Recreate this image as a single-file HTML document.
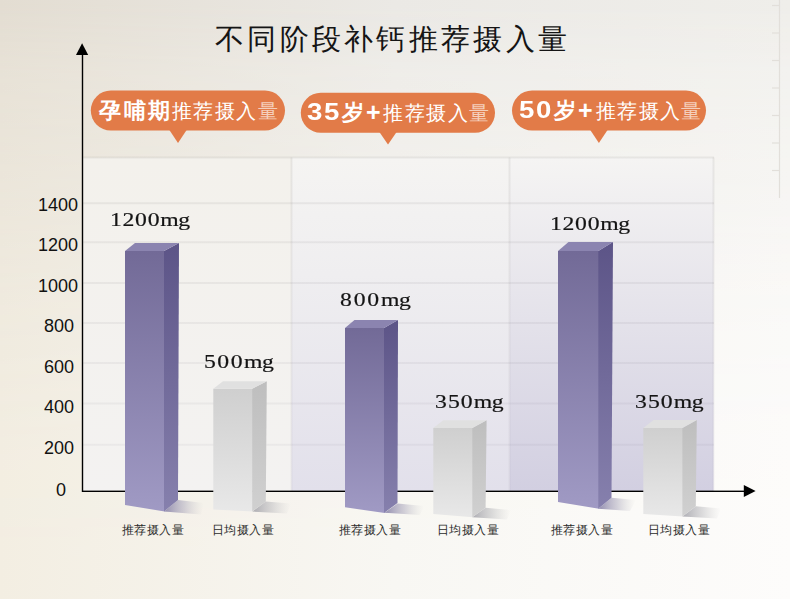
<!DOCTYPE html>
<html><head><meta charset="utf-8">
<style>
html,body{margin:0;padding:0;}
body{width:790px;height:599px;overflow:hidden;position:relative;font-family:"Liberation Sans",sans-serif;
background:linear-gradient(90deg,#e3ddd2 0%,#ebe9e5 50%,#efeeea 100%);}
#bg2{position:absolute;left:0;top:0;width:790px;height:599px;
background:linear-gradient(90deg,#f3eee2 0%,#f8f7f3 50%,#fdfcfb 100%);
-webkit-mask-image:linear-gradient(180deg,rgba(0,0,0,0) 0%,rgba(0,0,0,.3) 12%,rgba(0,0,0,.42) 22%,rgba(0,0,0,.75) 49%,rgba(0,0,0,.94) 76%,#000 100%);mask-image:linear-gradient(180deg,rgba(0,0,0,0) 0%,rgba(0,0,0,.3) 12%,rgba(0,0,0,.42) 22%,rgba(0,0,0,.75) 49%,rgba(0,0,0,.94) 76%,#000 100%);}
svg{position:absolute;left:0;top:0;}
.t{position:absolute;white-space:nowrap;}
.title{left:215px;top:20px;font-size:29px;letter-spacing:3.3px;color:#151515;font-weight:500;}
.tick{font-size:18px;color:#111;text-align:center;width:44px;}
.val{font-family:"Liberation Serif",serif;font-size:21px;letter-spacing:0.6px;color:#141414;transform:scale(1.13,0.94);transform-origin:0 0;-webkit-text-stroke:0.2px #141414;}
.val i{font-style:normal;letter-spacing:-0.4px;}
.cat{font-size:11.5px;letter-spacing:0.4px;color:#2b2b2b;font-weight:500;}
.bb{color:#fff;font-size:22px;font-weight:700;}
.br{color:#fff;font-size:20px;font-weight:500;}
.bd{color:#fff;font-size:24px;font-weight:700;transform:scaleX(1.15);transform-origin:0 0;}
.bp{color:#fff;font-size:25px;font-weight:700;}
.lt{color:#f5d0bd;}
</style></head>
<body>
<div id="bg2"></div>
<svg width="790" height="599" viewBox="0 0 790 599">
<defs>
<linearGradient id="gl" gradientUnits="userSpaceOnUse" x1="0" y1="157" x2="0" y2="491">
<stop offset="0" stop-color="#3a3530" stop-opacity="0.075"/><stop offset="1" stop-color="#3a3050" stop-opacity="0.045"/></linearGradient>
<linearGradient id="p1" x1="0" y1="0" x2="0" y2="1">
<stop offset="0" stop-color="#f3f1ec"/><stop offset="1" stop-color="#f3f2f1"/></linearGradient>
<linearGradient id="p2" x1="0" y1="0" x2="0" y2="1">
<stop offset="0" stop-color="#f5f4f2"/><stop offset="0.35" stop-color="#efeef0"/><stop offset="1" stop-color="#e2e0eb"/></linearGradient>
<linearGradient id="p3" x1="0" y1="0" x2="0" y2="1">
<stop offset="0" stop-color="#f5f4f3"/><stop offset="1" stop-color="#d2cfe1"/></linearGradient>
<linearGradient id="pf" x1="0" y1="0" x2="0" y2="1">
<stop offset="0" stop-color="#726a97"/><stop offset="1" stop-color="#a09ac4"/></linearGradient>
<linearGradient id="ps" x1="0" y1="0" x2="0" y2="1">
<stop offset="0" stop-color="#5c5487"/><stop offset="1" stop-color="#8680ad"/></linearGradient>
<linearGradient id="wf" x1="0" y1="0" x2="0" y2="1">
<stop offset="0" stop-color="#cfcfcf"/><stop offset="1" stop-color="#e8e8e8"/></linearGradient>
<linearGradient id="ws" x1="0" y1="0" x2="0" y2="1">
<stop offset="0" stop-color="#bebebe"/><stop offset="1" stop-color="#d0d0d0"/></linearGradient>
<linearGradient id="sh" x1="0" y1="0" x2="1" y2="0">
<stop offset="0" stop-color="#7f79a3" stop-opacity="0.85"/><stop offset="0.5" stop-color="#a9a5bb" stop-opacity="0.5"/><stop offset="1" stop-color="#ccc" stop-opacity="0"/></linearGradient>
<linearGradient id="shw" x1="0" y1="0" x2="1" y2="0">
<stop offset="0" stop-color="#9e9ea6" stop-opacity="0.85"/><stop offset="0.5" stop-color="#b8b8bc" stop-opacity="0.5"/><stop offset="1" stop-color="#ccc" stop-opacity="0"/></linearGradient>
</defs>
<!-- right ruler -->
<g stroke="#e2dfda" stroke-width="1.2" fill="none">
<line x1="779.5" y1="0" x2="779.5" y2="198"/>
<line x1="772" y1="5.5" x2="779" y2="5.5"/><line x1="772" y1="33" x2="779" y2="33"/>
<line x1="772" y1="60.5" x2="779" y2="60.5"/><line x1="772" y1="88" x2="779" y2="88"/>
<line x1="772" y1="115.5" x2="779" y2="115.5"/><line x1="772" y1="143" x2="779" y2="143"/>
<line x1="772" y1="170.5" x2="779" y2="170.5"/>
</g>
<!-- panels -->
<rect x="83" y="157.5" width="208.5" height="333.5" fill="url(#p1)"/>
<rect x="291.5" y="157.5" width="218" height="333.5" fill="url(#p2)"/>
<rect x="509.5" y="157.5" width="204" height="333.5" fill="url(#p3)"/>
<g stroke="url(#gl)" stroke-width="2" fill="none">
<line x1="83" y1="157.5" x2="714" y2="157.5"/>
<line x1="291.5" y1="157.5" x2="291.5" y2="491"/>
<line x1="509.5" y1="157.5" x2="509.5" y2="491"/>
<line x1="713.5" y1="157.5" x2="713.5" y2="491"/>
<line x1="83" y1="203.2" x2="714" y2="203.2"/>
<line x1="83" y1="242.2" x2="714" y2="242.2"/>
<line x1="83" y1="283" x2="714" y2="283"/>
<line x1="83" y1="323" x2="714" y2="323"/>
<line x1="83" y1="363" x2="714" y2="363"/>
<line x1="83" y1="403.5" x2="714" y2="403.5"/>
<line x1="83" y1="444.7" x2="714" y2="444.7"/>
</g>
<!-- axes -->
<line x1="82.5" y1="52" x2="82.5" y2="492" stroke="#000" stroke-width="1.4"/>
<polygon points="76,55 88.2,55 82.1,43.2" fill="#000"/>
<rect x="82" y="490.6" width="664" height="1.4" fill="#000"/>
<polygon points="743.8,485 743.8,497 755.6,491" fill="#000"/>
<!-- shadows -->
<polygon points="164,511.5 178,500 204,503 201,514.5" fill="url(#sh)"/>
<polygon points="252.3,511.6 265.6,501.4 291,503.5 287,513.5" fill="url(#shw)"/>
<polygon points="384.5,512.8 397.6,503.5 424,506 420,515" fill="url(#sh)"/>
<polygon points="472.3,517.3 485.6,507.7 511,510 507,519.5" fill="url(#shw)"/>
<polygon points="598.3,508.7 611.5,497.7 636,500 630,511" fill="url(#sh)"/>
<polygon points="682.4,516.6 695.8,506.3 721,508.5 717,518.5" fill="url(#shw)"/>
<!-- bar 1 -->
<polygon points="125,251 164.7,251 164.7,511.5 125,505" fill="url(#pf)"/>
<polygon points="164,251 179,243 178,500 164,511.5" fill="url(#ps)"/>
<polygon points="125,251 135,243 179,243 164,251" fill="#8b84b0"/>
<!-- bar 2 -->
<polygon points="213.3,388.8 252.9,388.8 252.9,511.4 213.3,509.4" fill="url(#wf)"/>
<polygon points="252.2,388.8 266.8,381.2 265.8,501.5 252.2,511.4" fill="url(#ws)"/>
<polygon points="213.3,388.8 223,381.2 266.8,381.2 252.2,388.8" fill="#e0e0e0"/>
<!-- bar 3 -->
<polygon points="345,328 384.7,328 384.7,513 345,507.3" fill="url(#pf)"/>
<polygon points="384,328 398,320 397.5,503 384,513" fill="url(#ps)"/>
<polygon points="345,328 354.5,320 398,320 384,328" fill="#8b84b0"/>
<!-- bar 4 -->
<polygon points="433.3,428 473,428 473,517.3 433.3,513.9" fill="url(#wf)"/>
<polygon points="472.3,428 486.6,420.3 485.6,507.7 472.3,517.3" fill="url(#ws)"/>
<polygon points="433.3,428 443.3,420.3 486.6,420.3 472.3,428" fill="#e0e0e0"/>
<!-- bar 5 -->
<polygon points="558,251 599,251 599,508.7 558,502" fill="url(#pf)"/>
<polygon points="598.3,251 613,242 611.5,497.7 598.3,508.7" fill="url(#ps)"/>
<polygon points="558,251 568.5,242 613,242 598.3,251" fill="#8b84b0"/>
<!-- bar 6 -->
<polygon points="643.3,428 683.1,428 683.1,516.6 643.3,514.1" fill="url(#wf)"/>
<polygon points="682.4,428 696.8,420 695.8,506.3 682.4,516.6" fill="url(#ws)"/>
<polygon points="643.3,428 653.5,420 696.8,420 682.4,428" fill="#e0e0e0"/>
<!-- bubbles -->
<g fill="#e27b48">
<rect x="90.8" y="90.6" width="194.2" height="40" rx="20"/>
<polygon points="168.7,129 187.3,129 178,143"/>
<rect x="300.8" y="92.8" width="194.2" height="40" rx="20"/>
<polygon points="378.7,131 397.3,131 388,144.6"/>
<rect x="512" y="90.6" width="194" height="40" rx="20"/>
<polygon points="589.6,129 608.2,129 598.9,143"/>
</g>
</svg>

<div class="t title">不同阶段补钙推荐摄入量</div>

<div class="t tick" style="left:36px;top:195px">1400</div>
<div class="t tick" style="left:36px;top:235px">1200</div>
<div class="t tick" style="left:36px;top:275.5px">1000</div>
<div class="t tick" style="left:37px;top:316px">800</div>
<div class="t tick" style="left:37px;top:357px">600</div>
<div class="t tick" style="left:37px;top:397px">400</div>
<div class="t tick" style="left:37px;top:437.5px">200</div>
<div class="t tick" style="left:39px;top:479.5px">0</div>

<div class="t val" style="left:110px;top:208px">1200<i>mg</i></div>
<div class="t val" style="left:203.5px;top:350px; letter-spacing:1.3px">500<i>mg</i></div>
<div class="t val" style="left:340px;top:288px; letter-spacing:1.6px">800<i>mg</i></div>
<div class="t val" style="left:435px;top:390px; letter-spacing:0.9px">350<i>mg</i></div>
<div class="t val" style="left:550px;top:212px">1200<i>mg</i></div>
<div class="t val" style="left:635px;top:390px; letter-spacing:0.9px">350<i>mg</i></div>

<div class="t cat" style="left:122px;top:523px">推荐摄入量</div>
<div class="t cat" style="left:212px;top:523px">日均摄入量</div>
<div class="t cat" style="left:339px;top:523px">推荐摄入量</div>
<div class="t cat" style="left:437px;top:523px">日均摄入量</div>
<div class="t cat" style="left:551px;top:523px">推荐摄入量</div>
<div class="t cat" style="left:648px;top:523px">日均摄入量</div>

<div class="t bb" style="left:99.0px;top:95.5px">孕</div>
<div class="t bb" style="left:123.5px;top:95.5px">哺</div>
<div class="t bb" style="left:148.2px;top:95.5px">期</div>
<div class="t br" style="left:172.0px;top:97.9px">推</div>
<div class="t br" style="left:193.1px;top:97.9px">荐</div>
<div class="t br" style="left:215.1px;top:97.9px">摄</div>
<div class="t br" style="left:236.4px;top:97.9px">入</div>
<div class="t br lt" style="left:258.0px;top:97.9px">量</div>
<div class="t bd" style="left:307.0px;top:98.4px">3</div>
<div class="t bd" style="left:324.3px;top:98.4px">5</div>
<div class="t bb" style="left:342.4px;top:97.7px">岁</div>
<div class="t bp" style="left:366.1px;top:98.0px">+</div>
<div class="t br" style="left:383.3px;top:99.9px">推</div>
<div class="t br" style="left:405.0px;top:99.9px">荐</div>
<div class="t br" style="left:426.3px;top:99.9px">摄</div>
<div class="t br" style="left:447.6px;top:99.9px">入</div>
<div class="t br lt" style="left:468.9px;top:99.9px">量</div>
<div class="t bd" style="left:519.0px;top:96.1px">5</div>
<div class="t bd" style="left:536.2px;top:96.1px">0</div>
<div class="t bb" style="left:553.7px;top:95.5px">岁</div>
<div class="t bp" style="left:578.0px;top:96.0px">+</div>
<div class="t br" style="left:596.0px;top:97.9px">推</div>
<div class="t br" style="left:617.3px;top:97.9px">荐</div>
<div class="t br" style="left:638.6px;top:97.9px">摄</div>
<div class="t br" style="left:659.9px;top:97.9px">入</div>
<div class="t br lt" style="left:681.1px;top:97.9px">量</div>
</body></html>
